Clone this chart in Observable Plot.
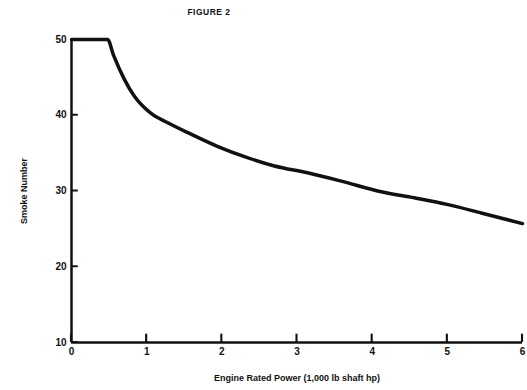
<!DOCTYPE html>
<html>
<head>
<meta charset="utf-8">
<script src="https://cdn.jsdelivr.net/npm/d3@7"></script>
<script src="https://cdn.jsdelivr.net/npm/@observablehq/plot@0.6"></script>
<style>
  html, body { margin: 0; padding: 0; background: #fff; }
  #wrap { position: relative; width: 527px; height: 390px; overflow: hidden; }
  #title { position: absolute; top: 7px; left: 160px; width: 98px; text-align: center;
           font: bold 8.5px "Liberation Sans", Arial, sans-serif; letter-spacing: 0.5px; color: #111; }
</style>
</head>
<body>
<div id="wrap"><div id="title">FIGURE 2</div></div>
<script>
const title = "FIGURE 2";
const xLabel = "Engine Rated Power (1,000 lb shaft hp)";
const yLabel = "Smoke Number";
const power = [0, 0.48, 0.56, 0.70, 0.83, 1.05, 1.28, 1.59, 1.94, 2.34, 2.70, 3.14, 3.59, 4.12, 4.56, 5.01, 5.45, 6];
const smoke = [50, 50, 47.9, 44.8, 42.6, 40.3, 39.0, 37.5, 35.9, 34.4, 33.3, 32.4, 31.3, 29.9, 29.1, 28.2, 27.1, 25.7];
const xTicks = [0, 1, 2, 3, 4, 5, 6];
const yTicks = [10, 20, 30, 40, 50];

document.getElementById("title").textContent = title;
const data = power.map((p, i) => ({power: p, smoke: smoke[i]}));
const xTickRows = xTicks.map(v => ({v}));
const yTickRows = yTicks.map(v => ({v}));

const font = '"Liberation Sans", Arial, sans-serif';
const chart = Plot.plot({
  width: 527,
  height: 390,
  marginLeft: 71,
  marginRight: 5,
  marginTop: 39,
  marginBottom: 48,
  style: {fontFamily: font, fontSize: "10px", fontWeight: "bold", color: "#111", background: "transparent"},
  x: {domain: [0, 6]},
  y: {domain: [10, 50]},
  marks: [
    Plot.axisX(xTicks, {tickSize: 0, tickPadding: 5, fontSize: 10, label: xLabel, labelAnchor: "center", labelOffset: 38, labelArrow: "none"}),
    Plot.axisY(yTicks, {tickSize: 0, tickPadding: 5, fontSize: 10, label: yLabel, labelAnchor: "center", labelOffset: 51, labelArrow: "none"}),
    Plot.rect(xTickRows, {x1: r => r.v - 0.014, x2: r => r.v + 0.014, y1: 10, y2: 11.1, fill: "#111"}),
    Plot.rect(yTickRows, {x1: 0, x2: 0.09, y1: r => r.v - 0.13, y2: r => r.v + 0.13, fill: "#111"}),
    Plot.ruleX([0], {stroke: "#111", strokeWidth: 2.5}),
    Plot.ruleY([10], {stroke: "#111", strokeWidth: 2.5}),
    Plot.line(data, {x: "power", y: "smoke", stroke: "#111", strokeWidth: 3.5, curve: "monotone-x", strokeLinejoin: "round"})
  ]
});
document.getElementById("wrap").appendChild(chart);
chart.style.position = "absolute";
chart.style.top = "0";
chart.style.left = "0";
chart.querySelectorAll("text").forEach(t => {
  if (t.textContent === xLabel || t.textContent === yLabel) t.setAttribute("font-size", "9");
});
</script>
</body>
</html>
